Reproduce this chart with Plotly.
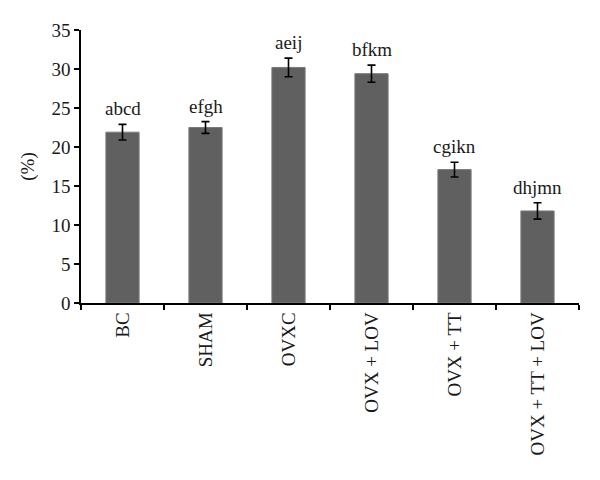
import plotly.graph_objects as go

categories = ["BC", "SHAM", "OVXC", "OVX + LOV", "OVX + TT", "OVX + TT + LOV"]
values = [21.9, 22.5, 30.2, 29.4, 17.1, 11.8]
errors = [1.0, 0.75, 1.2, 1.1, 0.95, 1.05]
letters = ["abcd", "efgh", "aeij", "bfkm", "cgikn", "dhjmn"]
y_ticks = [0, 5, 10, 15, 20, 25, 30, 35]

FONT = "Liberation Serif, DejaVu Serif, serif"
TXT = "#1a1a1a"

fig = go.Figure()
fig.add_trace(go.Bar(
    x=categories, y=values, width=0.4,
    marker=dict(color="#606060", line=dict(color="#7a7a7a", width=1)),
    error_y=dict(type="data", array=errors, visible=True, color="black", thickness=1.6, width=4),
))
for c, v, e, t in zip(categories, values, errors, letters):
    fig.add_annotation(x=c, y=v + e, text=t, showarrow=False, yanchor="bottom", yshift=3,
                       font=dict(family=FONT, size=19, color=TXT))

fig.update_layout(
    width=592, height=472,
    margin=dict(l=73, r=21, t=22, b=177, autoexpand=False),
    plot_bgcolor="white", paper_bgcolor="white",
    showlegend=False,
    font=dict(family=FONT, size=19, color=TXT),
)
fig.update_xaxes(
    range=[-0.5, 5.5], showline=True, linecolor="black", linewidth=1.5,
    ticks="outside", tickson="boundaries", ticklen=5, tickcolor="black", tickwidth=1.5,
    tickangle=-90, showgrid=False, automargin=False,
    tickfont=dict(family=FONT, size=19, color=TXT),
)
fig.update_yaxes(
    range=[0, 35], tickvals=y_ticks, showline=True, linecolor="black", linewidth=1.5,
    ticks="outside", ticklen=5, tickcolor="black", tickwidth=1.5, showgrid=False, zeroline=False,
    automargin=False,
    title=dict(text="(%)", font=dict(family=FONT, size=19, color=TXT), standoff=12),
    tickfont=dict(family=FONT, size=19, color=TXT),
)
fig.write_html("out.html")
